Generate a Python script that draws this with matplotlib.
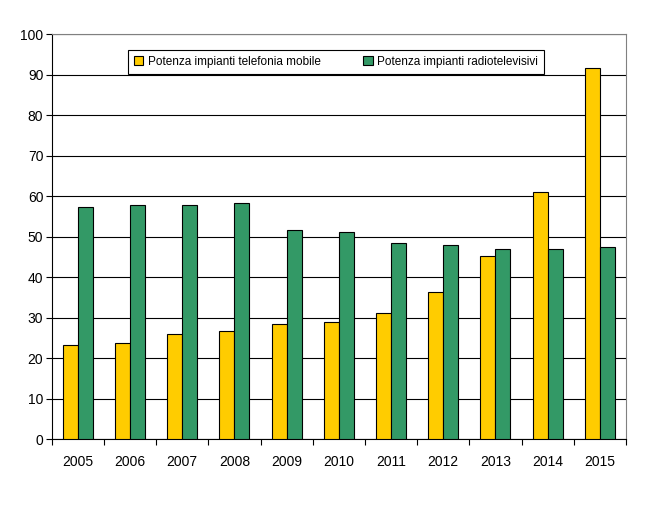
import matplotlib
matplotlib.use("Agg")
import matplotlib.pyplot as plt
import numpy as np

plt.rcParams['font.family'] = ['Liberation Sans', 'DejaVu Sans']

# Dati
anni = ["2005", "2006", "2007", "2008", "2009", "2010", "2011", "2012", "2013", "2014", "2015"]
telefonia = [23.4, 23.7, 25.9, 26.7, 28.4, 28.9, 31.1, 36.5, 45.3, 61.2, 91.6]
radiotv = [57.3, 57.8, 57.8, 58.3, 51.6, 51.1, 48.6, 48.1, 46.9, 46.9, 47.4]

fig = plt.figure(figsize=(6.68, 5.07), dpi=100)
ax = fig.add_axes([0.0774, 0.1335, 0.8596, 0.7985])

x = np.arange(len(anni))
w = 0.287
ax.bar(x - w / 2, telefonia, w, color="#FFCC00", edgecolor="black", linewidth=0.8,
       label="Potenza impianti telefonia mobile", zorder=3)
ax.bar(x + w / 2, radiotv, w, color="#339966", edgecolor="black", linewidth=0.8,
       label="Potenza impianti radiotelevisivi", zorder=3)

ax.set_xlim(-0.5, len(anni) - 0.5)
ax.set_ylim(0, 100)
ax.set_yticks(range(0, 101, 10))
ax.yaxis.grid(True, color="black", linewidth=0.8, zorder=0)
ax.set_axisbelow(True)

ax.set_xticks(x)
ax.set_xticklabels(anni)
ax.set_xticks(np.arange(-0.5, len(anni), 1), minor=True)
ax.tick_params(axis="x", which="major", length=0, pad=11, labelsize=10)
ax.tick_params(axis="x", which="minor", length=4, direction="out", width=0.8)
ax.tick_params(axis="y", length=4, direction="out", width=0.8, labelsize=10, pad=2)

for s in ["top", "right"]:
    ax.spines[s].set_color("#808080")
    ax.spines[s].set_linewidth(0.8)
for s in ["left", "bottom"]:
    ax.spines[s].set_color("black")
    ax.spines[s].set_linewidth(0.8)

leg = ax.legend(loc="center", bbox_to_anchor=(0.495, 0.932), ncol=2, fontsize=8.5,
                frameon=True, fancybox=False, shadow=False, handlelength=0.8,
                handleheight=0.8, handletextpad=0.4, columnspacing=3.6,
                borderpad=0.5, borderaxespad=0)
leg.get_frame().set_edgecolor("black")
leg.get_frame().set_linewidth(0.8)
leg.get_frame().set_alpha(1)
leg.set_zorder(5)

fig.savefig("out.png", dpi=100)
